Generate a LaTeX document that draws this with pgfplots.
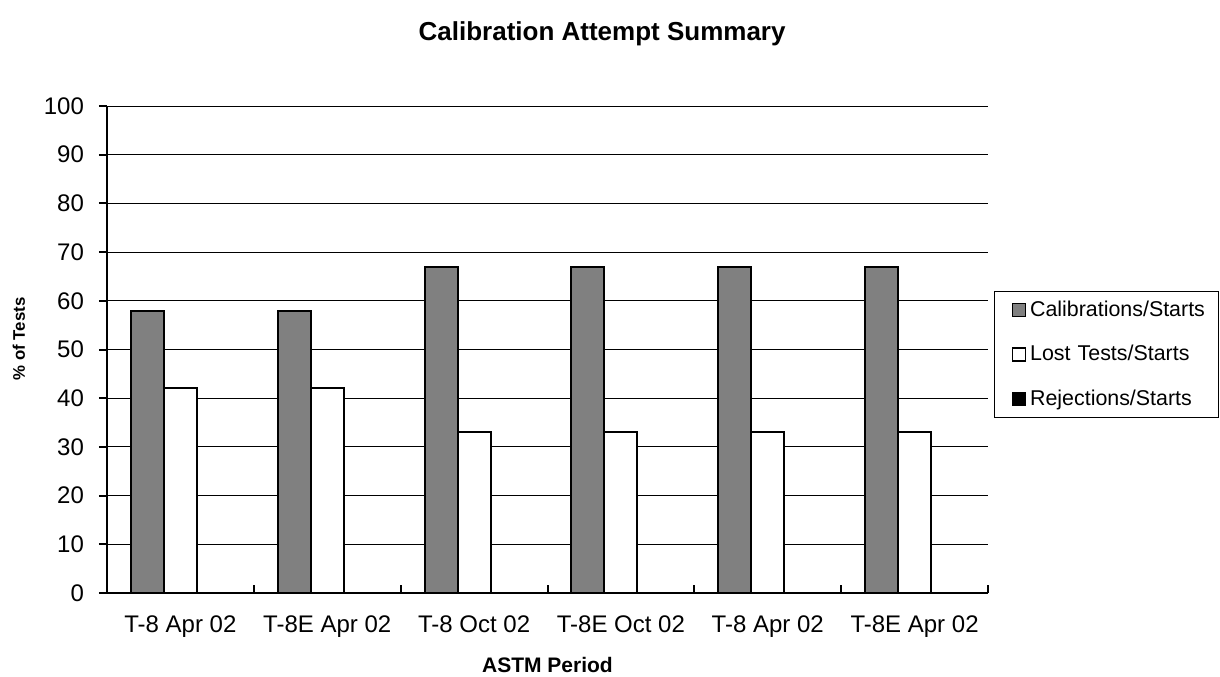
\documentclass[border=0pt]{standalone}
\usepackage{fontspec}
\setmainfont{Liberation Sans}
\usepackage{pgfplots}
\pgfplotsset{compat=1.18}
\definecolor{calgray}{RGB}{128,128,128}
\begin{document}
\begin{tikzpicture}
\useasboundingbox (0,0) rectangle (610pt,338pt);
\begin{axis}[
  at={(53.5pt,41.5pt)}, anchor=south west,
  scale only axis, width=440.5pt, height=243.5pt,
  ybar=0pt, bar width=16.5pt,
  xmin=-0.5, xmax=5.5, ymin=0, ymax=100,
  axis x line=bottom, axis y line=left,
  axis line style={line width=1pt, -},
  xtick={0,...,5},
  xticklabels={T-8 Apr 02, T-8E Apr 02, T-8 Oct 02, T-8E Oct 02, T-8 Apr 02, T-8E Apr 02},
  minor xtick={-0.5,0.5,...,5.5},
  major x tick style={draw=none},
  minor x tick style={line width=1pt, black},
  minor tick length=4pt,
  xtick align=inside,
  ytick={0,10,...,100},
  ytick align=outside,
  major tick length=4pt,
  y tick style={line width=1pt, black},
  ymajorgrids, grid style={black, line width=0.5pt},
  tick label style={font=\fontsize{12}{14}\selectfont},
  yticklabel style={xshift=-4pt},
  xticklabel style={yshift=-8pt},
  /pgf/number format/assume math mode=true,
  title={\textbf{Calibration Attempt Summary}},
  title style={at={(rel axis cs:0.562,1.152)}, anchor=center, yshift=-7pt, font=\fontsize{13}{15}\selectfont},
  xlabel={\textbf{ASTM Period}},
  xlabel style={at={(rel axis cs:0.5,-0.148)}, anchor=center, font=\fontsize{10.5}{12}\selectfont},
  ylabel={\textbf{\% of Tests}},
  ylabel style={at={(rel axis cs:-0.0999,0.522)}, anchor=center, rotate=0, font=\fontsize{8.4}{10}\selectfont},
  legend style={at={(rel axis cs:1.0068,0.6197)}, anchor=north west,
    draw=black, line width=0.5pt, font=\fontsize{10.7}{12}\selectfont,
    legend cell align=left, row sep=9pt, inner xsep=8.5pt, inner ysep=2.5pt,
    text width=83.5pt},
  legend image code/.code={\draw[#1, line width=0.8pt] (0pt,-3.2pt) rectangle (6.5pt,3.2pt);},
]
\addplot[fill=calgray, draw=black, line width=1pt] coordinates {(0,58) (1,58) (2,67) (3,67) (4,67) (5,67)};
\addplot[fill=white, draw=black, line width=1pt] coordinates {(0,42) (1,42) (2,33) (3,33) (4,33) (5,33)};
\addplot[fill=black, draw=black, line width=1pt] coordinates {(0,0) (1,0) (2,0) (3,0) (4,0) (5,0)};
\legend{Calibrations/Starts, Lost Tests/Starts, Rejections/Starts}
\end{axis}
\end{tikzpicture}
\end{document}
